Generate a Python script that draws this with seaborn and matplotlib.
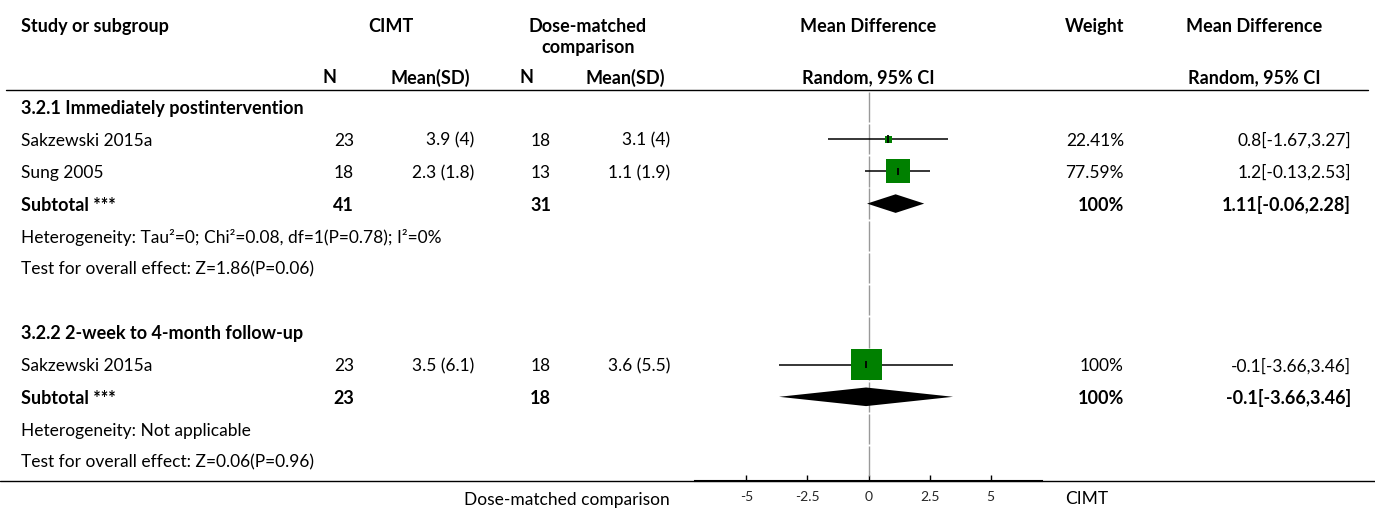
import matplotlib
matplotlib.use("Agg")
import pandas as pd
import matplotlib.pyplot as plt
import seaborn as sns

# study rows
study = ["Sakzewski 2015a", "Sung 2005", "Sakzewski 2015a"]
study_group = [0, 0, 1]
cimt_n = [23, 18, 23]
cimt_msd = ["3.9 (4)", "2.3 (1.8)", "3.5 (6.1)"]
ctrl_n = [18, 13, 18]
ctrl_msd = ["3.1 (4)", "1.1 (1.9)", "3.6 (5.5)"]
md = [0.8, 1.2, -0.1]
md_lo = [-1.67, -0.13, -3.66]
md_hi = [3.27, 2.53, 3.46]
weight = [22.41, 77.59, 100]

# subgroup totals
groups = ["3.2.1 Immediately postintervention", "3.2.2 2-week to 4-month follow-up"]
sub_cimt_n = [41, 23]
sub_ctrl_n = [31, 18]
sub_md = [1.11, -0.1]
sub_lo = [-0.06, -3.66]
sub_hi = [2.28, 3.46]
sub_weight = [100, 100]
heterog = ["Heterogeneity: Tau\u00b2=0; Chi\u00b2=0.08, df=1(P=0.78); I\u00b2=0%",
           "Heterogeneity: Not applicable"]
overall = ["Test for overall effect: Z=1.86(P=0.06)",
           "Test for overall effect: Z=0.06(P=0.96)"]

xticks = [-5, -2.5, 0, 2.5, 5]
xmax = 7.1
left_label = "Dose-matched comparison"
right_label = "CIMT"

sns.set_theme(style="white")
plt.rcParams['font.family'] = ['Lato', 'DejaVu Sans']
plt.rcParams['axes.unicode_minus'] = False

W, H = 1375, 508
ROW0, ROWH = 107, 32.2
FS, FS_B = 12.5, 13


def row(ypx):
    return (ypx - ROW0) / ROWH


def fmt_ci(m, lo, hi):
    return f"{m:g}[{lo:.2f},{hi:.2f}]"


# work out which row each thing sits on
st_rows, sub_rows, head_rows, het_rows, ov_rows = [], [], [], [], []
r = 0
for g in range(len(groups)):
    head_rows.append(r)
    r += 1
    for i in range(len(study)):
        if study_group[i] == g:
            st_rows.append(r)
            r += 1
    sub_rows.append(r)
    het_rows.append(r + 1)
    ov_rows.append(r + 2)
    r += 4
last_row = ov_rows[-1]

df = pd.DataFrame({"study": study, "row": st_rows, "md": md, "lo": md_lo,
                   "hi": md_hi, "weight": weight})

fig = plt.figure(figsize=(W / 100, H / 100), dpi=100)

# table part, in pixel x and row y
tab = fig.add_axes([0, 0, 1, 1])
tab.set_xlim(0, W)
tab.set_ylim(row(H), row(0))
tab.axis("off")

DY = 1.5 / ROWH  # nudge text down a touch


def txt(x, y, s, ha="left", bold=False):
    tab.text(x, y + DY, s, ha=ha, va="center", fontsize=FS_B if bold else FS,
             fontweight="bold" if bold else "normal", color="black")


# headers
txt(21.5, row(25), "Study or subgroup", bold=True)
txt(391, row(25), "CIMT", ha="center", bold=True)
txt(588, row(25), "Dose-matched", ha="center", bold=True)
txt(588, row(46), "comparison", ha="center", bold=True)
txt(868, row(25), "Mean Difference", ha="center", bold=True)
txt(1124, row(25), "Weight", ha="right", bold=True)
txt(1254, row(25), "Mean Difference", ha="center", bold=True)
for x, s in [(330, "N"), (430, "Mean(SD)"), (527, "N"), (625, "Mean(SD)"),
             (868, "Random, 95% CI"), (1254, "Random, 95% CI")]:
    txt(x, row(76), s, ha="center", bold=True)
tab.plot([6, 1368], [row(90)] * 2, color="black", lw=1)
tab.plot([0, W], [row(481.3)] * 2, color="black", lw=1)

for g in range(len(groups)):
    txt(21.5, head_rows[g], groups[g], bold=True)
    txt(21.5, sub_rows[g], "Subtotal ***", bold=True)
    txt(354, sub_rows[g], str(sub_cimt_n[g]), ha="right", bold=True)
    txt(551, sub_rows[g], str(sub_ctrl_n[g]), ha="right", bold=True)
    txt(1124, sub_rows[g], f"{sub_weight[g]:g}%", ha="right", bold=True)
    txt(1351, sub_rows[g], fmt_ci(sub_md[g], sub_lo[g], sub_hi[g]), ha="right", bold=True)
    txt(21.5, het_rows[g], heterog[g])
    txt(21.5, ov_rows[g], overall[g])

for i in range(len(study)):
    y = st_rows[i]
    txt(21.5, y, study[i])
    txt(354, y, str(cimt_n[i]), ha="right")
    txt(474, y, cimt_msd[i], ha="right")
    txt(551, y, str(ctrl_n[i]), ha="right")
    txt(670.5, y, ctrl_msd[i], ha="right")
    txt(1124, y, f"{weight[i]:g}%", ha="right")
    txt(1351, y, fmt_ci(md[i], md_lo[i], md_hi[i]), ha="right")

txt(670, row(499), left_label, ha="right")
txt(1065, row(497), right_label)

# forest part
ax = fig.add_axes([695 / W, (H - 481.3) / H, (1042 - 695) / W, (481.3 - 90) / H])
ax.set_facecolor("none")
ax.set_xlim(-xmax, xmax)
ax.set_ylim(row(481.3), row(90))

seg = list(range(last_row + 1))
ax.vlines([0] * len(seg), [k - 0.47 for k in seg], [k + 0.47 for k in seg],
          color="#999999", lw=1, zorder=1)
ax.hlines(df["row"], df["lo"], df["hi"], color="black", lw=1.1, zorder=2)
side = {w: (31 * w / 100 * 0.72) ** 2 for w in weight}
sns.scatterplot(data=df, x="md", y="row", size="weight", sizes=side, marker="s",
                color="green", linewidth=0, legend=False, ax=ax, zorder=3)
ax.vlines(df["md"], df["row"] - 0.12, df["row"] + 0.12, color="black", lw=1.3, zorder=4)

h = 9.3 / ROWH
for g in range(len(groups)):
    y = sub_rows[g]
    ax.fill([sub_lo[g], sub_md[g], sub_hi[g], sub_md[g]], [y, y - h, y, y + h],
            color="black", lw=0, zorder=3)

for s in ["top", "left", "right"]:
    ax.spines[s].set_visible(False)
ax.spines["bottom"].set_linewidth(1.5)
ax.spines["bottom"].set_color("black")
ax.set_xticks(xticks)
ax.set_xticklabels([f"{t:g}" for t in xticks])
ax.set_yticks([])
ax.tick_params(axis="x", direction="in", length=4.3, width=1, color="black",
               labelsize=10, pad=7, bottom=True)
ax.set_xlabel("")
ax.set_ylabel("")

fig.savefig("out.png", dpi=100)
